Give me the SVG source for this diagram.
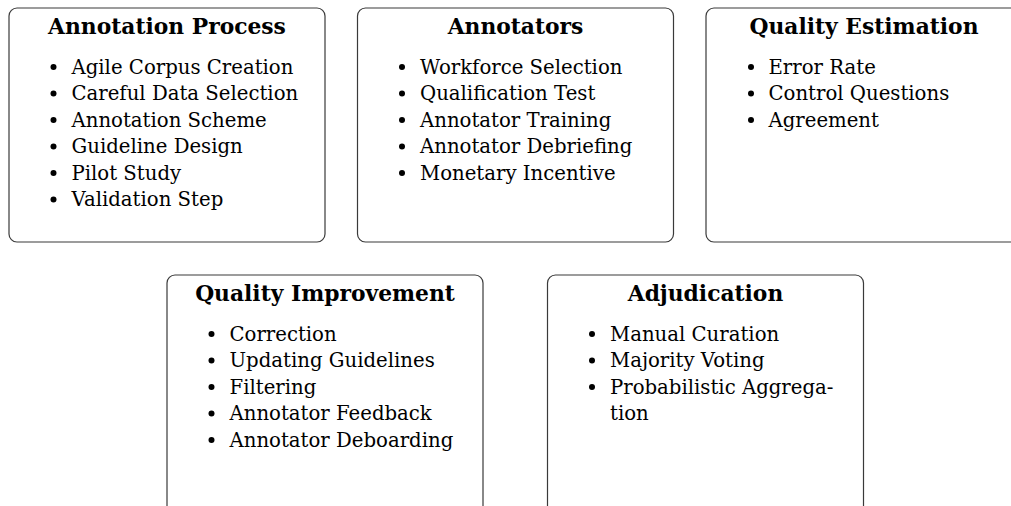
<svg xmlns="http://www.w3.org/2000/svg" width="1011" height="506" viewBox="0 0 1011 506">
<style>
.box{fill:#fff;stroke:#3a3a3a;stroke-width:1.2}
.title{font-family:"DejaVu Serif","Liberation Serif",serif;font-weight:bold;font-size:21.8px;fill:#000;text-anchor:middle}
.item{font-family:"DejaVu Serif","Liberation Serif",serif;font-size:19.7px;fill:#000}
.bul{fill:#000}
</style>
<rect width="1011" height="506" fill="#fff"/>
<g id="annotation-process">
<rect class="box" x="9" y="8" width="316" height="234" rx="8"/>
<text class="title" x="167" y="33.5">Annotation Process</text>
<g class="bul"><circle cx="53.5" cy="67" r="3"/><circle cx="53.5" cy="93.5" r="3"/><circle cx="53.5" cy="120" r="3"/><circle cx="53.5" cy="146.5" r="3"/><circle cx="53.5" cy="173" r="3"/><circle cx="53.5" cy="199.5" r="3"/></g>
<text class="item" x="71.5" y="73.5">Agile Corpus Creation</text>
<text class="item" x="71.5" y="100">Careful Data Selection</text>
<text class="item" x="71.5" y="126.5">Annotation Scheme</text>
<text class="item" x="71.5" y="153">Guideline Design</text>
<text class="item" x="71.5" y="179.5">Pilot Study</text>
<text class="item" x="71.5" y="206">Validation Step</text>
</g>
<g id="annotators">
<rect class="box" x="357.5" y="8" width="316" height="234" rx="8"/>
<text class="title" x="515.5" y="33.5">Annotators</text>
<g class="bul"><circle cx="402" cy="67" r="3"/><circle cx="402" cy="93.5" r="3"/><circle cx="402" cy="120" r="3"/><circle cx="402" cy="146.5" r="3"/><circle cx="402" cy="173" r="3"/></g>
<text class="item" x="420" y="73.5">Workforce Selection</text>
<text class="item" x="420" y="100">Qualification Test</text>
<text class="item" x="420" y="126.5">Annotator Training</text>
<text class="item" x="420" y="153">Annotator Debriefing</text>
<text class="item" x="420" y="179.5">Monetary Incentive</text>
</g>
<g id="quality-estimation">
<rect class="box" x="706" y="8" width="316" height="234" rx="8"/>
<text class="title" x="864" y="33.5">Quality Estimation</text>
<g class="bul"><circle cx="751" cy="67" r="3"/><circle cx="751" cy="93.5" r="3"/><circle cx="751" cy="120" r="3"/></g>
<text class="item" x="768.5" y="73.5">Error Rate</text>
<text class="item" x="768.5" y="100">Control Questions</text>
<text class="item" x="768.5" y="126.5">Agreement</text>
</g>
<g id="quality-improvement">
<rect class="box" x="167" y="275" width="316" height="245" rx="8"/>
<text class="title" x="325" y="300.5">Quality Improvement</text>
<g class="bul"><circle cx="211.5" cy="334" r="3"/><circle cx="211.5" cy="360.5" r="3"/><circle cx="211.5" cy="387" r="3"/><circle cx="211.5" cy="413.5" r="3"/><circle cx="211.5" cy="440" r="3"/></g>
<text class="item" x="229.5" y="340.5">Correction</text>
<text class="item" x="229.5" y="367">Updating Guidelines</text>
<text class="item" x="229.5" y="393.5">Filtering</text>
<text class="item" x="229.5" y="420">Annotator Feedback</text>
<text class="item" x="229.5" y="446.5">Annotator Deboarding</text>
</g>
<g id="adjudication">
<rect class="box" x="547.5" y="275" width="316" height="245" rx="8"/>
<text class="title" x="705.5" y="300.5">Adjudication</text>
<g class="bul"><circle cx="592" cy="334" r="3"/><circle cx="592" cy="360.5" r="3"/><circle cx="592" cy="387" r="3"/></g>
<text class="item" x="610" y="340.5">Manual Curation</text>
<text class="item" x="610" y="367">Majority Voting</text>
<text class="item" x="610" y="393.5">Probabilistic Aggrega-</text>
<text class="item" x="610" y="420">tion</text>
</g>
<g id="connectors"></g>
</svg>
